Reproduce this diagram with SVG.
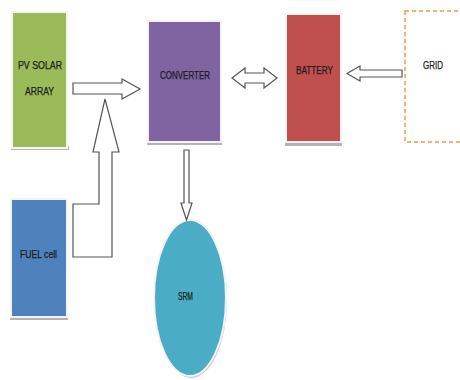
<svg xmlns="http://www.w3.org/2000/svg" width="460" height="380" viewBox="0 0 460 380">
<style>
.lbl{font-family:"Liberation Sans",Arial,sans-serif;font-size:11px;fill:#1a1a22;stroke:#1a1a22;stroke-width:0.25;}
.box{stroke:#f4f4f4;stroke-width:2;}
.shadow{fill:#b8b0b8;}
.arr{fill:#ffffff;stroke:#555555;stroke-width:1.2;stroke-linejoin:miter;}
</style>
<rect width="460" height="380" fill="#ffffff"/>
<g id="pv">
<rect class="shadow" x="11" y="146" width="58" height="4"/>
<rect class="box" x="12" y="12" width="55" height="136" fill="#9BBB59"/>
<text class="lbl" x="18" y="69" textLength="44" lengthAdjust="spacingAndGlyphs">PV SOLAR</text>
<text class="lbl" x="25" y="95" textLength="29" lengthAdjust="spacingAndGlyphs">ARRAY</text>
</g>
<g id="converter">
<rect class="shadow" x="147" y="141" width="75" height="4"/>
<rect class="box" x="148" y="21" width="73" height="121" fill="#8064A2"/>
<text class="lbl" x="160" y="79" textLength="50" lengthAdjust="spacingAndGlyphs">CONVERTER</text>
</g>
<g id="battery">
<rect class="shadow" x="285" y="142" width="57" height="4"/>
<rect class="box" x="286" y="14" width="55" height="128" fill="#C0504D"/>
<text class="lbl" x="296" y="74" textLength="37" lengthAdjust="spacingAndGlyphs">BATTERY</text>
</g>
<g id="grid">
<rect x="405" y="11" width="60" height="131" fill="#ffffff" stroke="#F79646" stroke-width="1.5" stroke-dasharray="4,3"/>
<text class="lbl" x="423" y="69" textLength="20" lengthAdjust="spacingAndGlyphs">GRID</text>
</g>
<g id="fuel">
<rect class="shadow" x="10" y="316" width="58" height="4"/>
<rect class="box" x="11" y="199" width="56" height="118" fill="#4F81BD"/>
<text class="lbl" x="20" y="258" textLength="37" lengthAdjust="spacingAndGlyphs">FUEL cell</text>
</g>
<g id="srm">
<ellipse cx="191" cy="300" rx="36" ry="78" fill="#c8c8c8"/>
<ellipse cx="190" cy="298" rx="36" ry="78" fill="#4BACC6" stroke="#f4f4f4" stroke-width="2"/>
<text class="lbl" x="178" y="300" textLength="15" lengthAdjust="spacingAndGlyphs">SRM</text>
</g>
<g id="connectors">
<path class="arr" d="M73,83 L122,83 L122,79 L140,89 L122,99 L122,94 L73,94 Z"/>
<path class="arr" d="M73,204 L99,204 L99,152 L93,152 L105,99 L119,152 L112,152 L112,257 L73,257 Z"/>
<path class="arr" d="M232,78 L245,68 L245,73 L264,73 L264,68 L277,78 L264,88 L264,83 L245,83 L245,88 Z"/>
<path class="arr" d="M347,73.5 L360,66 L360,70 L402,70 L402,77 L360,77 L360,81 Z"/>
<path class="arr" d="M184,150 L189,150 L189,203 L192,203 L186.5,220 L181,203 L184,203 Z"/>
</g>
</svg>
